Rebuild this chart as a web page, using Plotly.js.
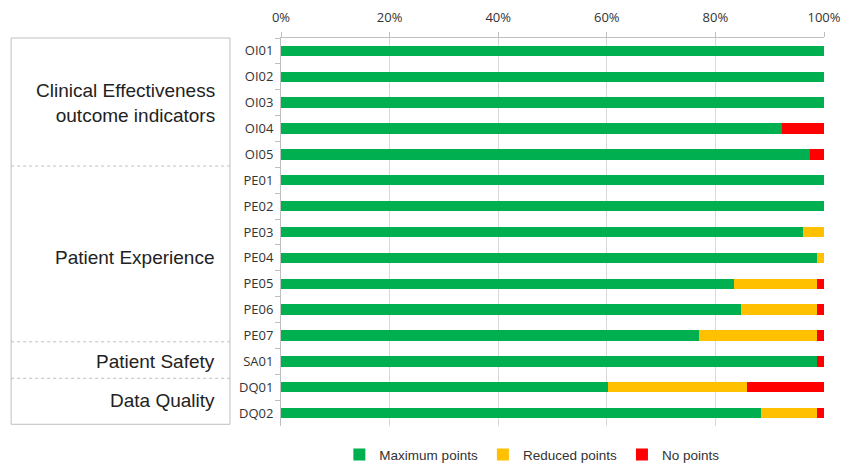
<!DOCTYPE html>
<html>
<head>
<meta charset="utf-8">
<script src="https://cdn.plot.ly/plotly-3.0.1.min.js"></script>
<style>html,body{margin:0;padding:0;background:#fff;}#chart{width:844px;height:466px;}</style>
</head>
<body>
<div id="chart"></div>
<script>
const categories = ["OI01","OI02","OI03","OI04","OI05","PE01","PE02","PE03","PE04","PE05","PE06","PE07","SA01","DQ01","DQ02"];
const maxPoints =     [1.000,1.000,1.000,0.922,0.974,1.000,1.000,0.962,0.988,0.834,0.847,0.769,0.988,0.603,0.884];
const reducedPoints = [0,    0,    0,    0,    0,    0,    0,    0.038,0.012,0.154,0.141,0.219,0,    0.256,0.104];
const noPoints =      [0,    0,    0,    0.078,0.026,0,    0,    0,    0,    0.012,0.012,0.012,0.012,0.141,0.012];
const seriesNames = ["Maximum points","Reduced points","No points"];
const seriesColors = ["#00B050","#FFC000","#FF0000"];
const groupNames = ["Clinical Effectiveness<br>outcome indicators","Patient Experience","Patient Safety","Data Quality"];
const groupCenters = [2, 8, 12, 13.5];

const traces = [maxPoints, reducedPoints, noPoints].map((vals, i) => ({
  type: 'bar', orientation: 'h', x: vals, y: categories, name: seriesNames[i],
  marker: {color: seriesColors[i], line: {width: 0}}, hoverinfo: 'skip'
}));

const sepY = [0.670, 0.217, 0.123];
const shapes = [{
  type: 'rect', xref: 'paper', yref: 'paper', x0: -0.497, x1: -0.094, y0: 0.0044, y1: 1,
  line: {color: '#bfbfbf', width: 1}, fillcolor: 'rgba(0,0,0,0)'
}].concat(sepY.map(b => ({
  type: 'line', xref: 'paper', yref: 'paper', x0: -0.497, x1: -0.094, y0: b, y1: b,
  line: {color: '#bfbfbf', width: 1, dash: 'dot'}
})));

const annotations = groupNames.map((g, i) => ({
  xref: 'paper', yref: 'y', x: -0.117, y: groupCenters[i], xanchor: 'right', yanchor: 'middle',
  text: g, showarrow: false, align: 'right',
  font: {family: 'Liberation Sans, Arial, sans-serif', size: 19, color: '#222'}
}));

const layout = {
  width: 844, height: 466,
  margin: {l: 281, r: 20, t: 38, b: 40},
  barmode: 'stack', bargap: 0.6,
  paper_bgcolor: '#fff', plot_bgcolor: '#fff',
  font: {family: 'Liberation Sans, Arial, sans-serif', color: '#404040'},
  xaxis: {
    side: 'top', range: [0, 1], tickvals: [0,0.2,0.4,0.6,0.8,1], tickformat: '.0%',
    showgrid: true, gridcolor: '#d9d9d9', gridwidth: 1,
    showline: true, linecolor: '#bfbfbf', ticks: 'outside', ticklen: 5, tickcolor: '#bfbfbf',
    tickfont: {size: 13, color: '#333', family: 'Open Sans, sans-serif'}, zeroline: false, fixedrange: true,
    ticklabelstandoff: 5
  },
  yaxis: {
    type: 'category', autorange: 'reversed', showline: true, linecolor: '#bfbfbf',
    ticks: 'outside', tickson: 'boundaries', ticklen: 5, tickcolor: '#bfbfbf',
    tickfont: {size: 13, color: '#333', family: 'Open Sans, sans-serif'}, showgrid: false, fixedrange: true,
    ticklabelstandoff: 4
  },
  legend: {
    orientation: 'h', x: 0.462, xanchor: 'center', yref: 'container', y: 0.024, yanchor: 'middle',
    font: {size: 13.5, color: '#333', family: 'Liberation Sans, Arial, sans-serif'},
    traceorder: 'normal', itemwidth: 30
  },
  shapes: shapes, annotations: annotations
};

Plotly.newPlot('chart', traces, layout, {displayModeBar: false, staticPlot: true});
</script>
</body>
</html>
